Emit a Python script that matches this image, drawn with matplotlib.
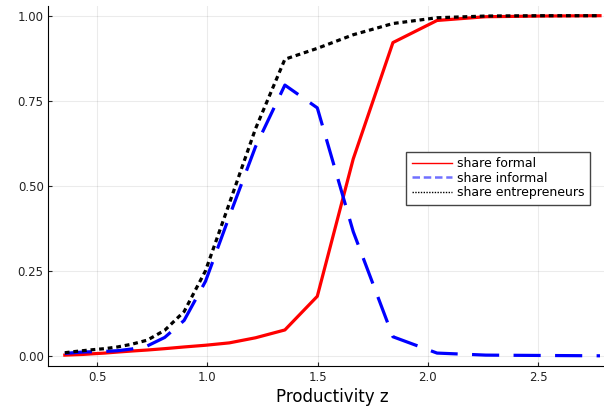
import matplotlib.pyplot as plt

# productivity grid
z = [0.354, 0.392, 0.435, 0.482, 0.535, 0.593, 0.657, 0.728, 0.807, 0.895, 0.992,
     1.100, 1.219, 1.352, 1.499, 1.662, 1.842, 2.042, 2.263, 2.509, 2.781]

share_formal = [0.002, 0.003, 0.004, 0.006, 0.008, 0.011, 0.014, 0.017, 0.021, 0.026, 0.031,
                0.038, 0.053, 0.076, 0.175, 0.579, 0.921, 0.986, 0.997, 0.999, 1.000]
share_informal = [0.007, 0.009, 0.011, 0.012, 0.013, 0.015, 0.020, 0.029, 0.054, 0.104, 0.219,
                  0.410, 0.615, 0.796, 0.729, 0.365, 0.056, 0.008, 0.002, 0.001, 0.000]
share_entre = [0.009, 0.012, 0.015, 0.018, 0.021, 0.026, 0.034, 0.046, 0.075, 0.130, 0.250,
               0.448, 0.668, 0.872, 0.904, 0.944, 0.977, 0.994, 0.999, 1.000, 1.000]

xticks = [0.5, 1.0, 1.5, 2.0, 2.5]
yticks = [0.0, 0.25, 0.5, 0.75, 1.0]

fig = plt.figure(figsize=(6.04, 4.09), dpi=100)
ax = fig.add_axes([48.5 / 604, (409 - 366) / 409, 566.7 / 604, 360.5 / 409])

ax.plot(z, share_formal, color='#ff0000', lw=2.3, label='share formal')
ax.plot(z, share_informal, color='#0000ff', lw=2.3, dashes=(8.5, 4.5), label='share informal')
ax.plot(z, share_entre, color='black', lw=2.3, dashes=(1.5, 1.2), label='share entrepreneurs')

ax.set_xlim(0.28, 2.85)
ax.set_ylim(-0.03, 1.03)
ax.set_xticks(xticks)
ax.set_xticklabels(['0.5', '1.0', '1.5', '2.0', '2.5'])
ax.set_yticks(yticks)
ax.set_yticklabels(['0.00', '0.25', '0.50', '0.75', '1.00'])
ax.tick_params(direction='in', length=3, labelsize=8.5, colors='#222222')
ax.grid(True, color='black', alpha=0.08, lw=0.8)
ax.spines['top'].set_visible(False)
ax.spines['right'].set_visible(False)
ax.set_xlabel('Productivity z', fontsize=12, labelpad=3)

leg = ax.legend(loc='upper left', bbox_to_anchor=(0.631, 0.594), fontsize=9,
                handlelength=3.2, fancybox=False, framealpha=1, edgecolor='#444444',
                borderpad=0.45, labelspacing=0.1, handletextpad=0.4, borderaxespad=0)
hl = leg.get_lines()
for line in hl:
    line.set_linewidth(1)
hl[1].set_linewidth(1.8)
hl[1].set_color('#7070ff')
hl[1].set_dashes((3, 1.5))
hl[2].set_dashes((1, 1))

fig.savefig('out.png', dpi=100)
